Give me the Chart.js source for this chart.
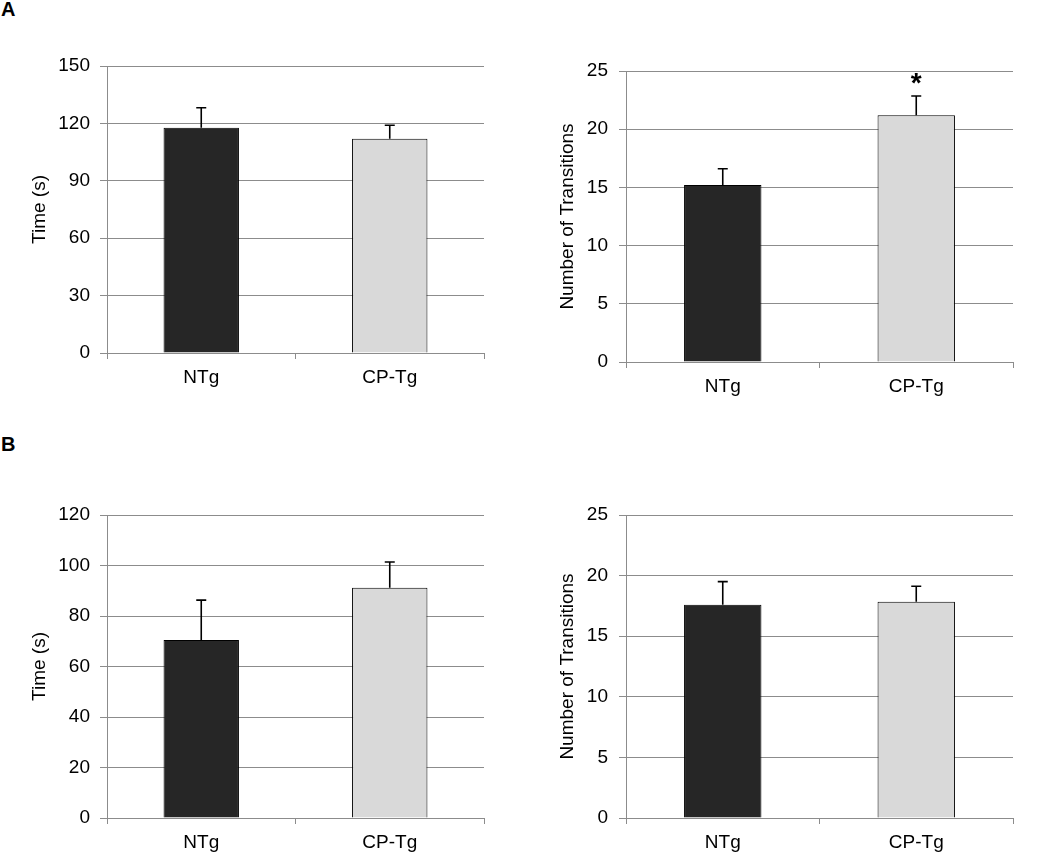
<!DOCTYPE html>
<html>
<head>
<meta charset="utf-8">
<script src="https://cdn.jsdelivr.net/npm/chart.js@4"></script>
<style>
  body { margin: 0; background: #fff; width: 1050px; height: 855px; position: relative; overflow: hidden; font-family: "Liberation Sans", Arial, sans-serif; }
  .panel { position: absolute; font-weight: bold; font-size: 20px; color: #000; }
  canvas { position: absolute; }
</style>
</head>
<body>
<div class="panel" style="left:1px; top:-2px;">A</div>
<div class="panel" style="left:1px; top:433px;">B</div>
<canvas id="a-time" width="500" height="370" style="left:0; top:40px;"></canvas>
<canvas id="a-trans" width="510" height="380" style="left:520px; top:40px;"></canvas>
<canvas id="b-time" width="500" height="365" style="left:0; top:490px;"></canvas>
<canvas id="b-trans" width="510" height="365" style="left:520px; top:490px;"></canvas>
<script>
// groups
const groups = ['NTg', 'CP-Tg'];
const barColors = ['#262626', '#d9d9d9'];

// panel A
const aTime = [117.7, 112.0];
const aTimeErr = [10.5, 7.0];
const aTrans = [15.2, 21.2];
const aTransErr = [1.4, 1.65];
const aTransSig = ['', '*'];

// panel B
const bTime = [70.5, 91.2];
const bTimeErr = [15.8, 10.2];
const bTrans = [17.6, 17.85];
const bTransErr = [1.9, 1.27];

const gridColor = '#8c8c8c';
const font = { family: '"Liberation Sans", Arial, sans-serif', size: 19 };

// draws top-only error bars and significance stars
const errorBarPlugin = {
  id: 'errorBars',
  afterDatasetsDraw(chart, args, opts) {
    const ctx = chart.ctx;
    const x = chart.scales.x;
    const y = chart.scales.y;
    const vals = chart.data.datasets[0].data;
    ctx.save();
    ctx.strokeStyle = '#000';
    ctx.lineWidth = 1.6;
    vals.forEach((v, i) => {
      const px = x.getPixelForValue(i);
      const yTop = y.getPixelForValue(v + opts.errors[i]);
      const yBar = y.getPixelForValue(v);
      ctx.beginPath();
      ctx.moveTo(px, yBar);
      ctx.lineTo(px, yTop);
      ctx.moveTo(px - 5, yTop);
      ctx.lineTo(px + 5, yTop);
      ctx.stroke();
      const star = opts.stars ? opts.stars[i] : '';
      if (star) {
        ctx.fillStyle = '#000';
        ctx.font = 'bold 28px "Liberation Sans", Arial, sans-serif';
        ctx.textAlign = 'center';
        ctx.textBaseline = 'middle';
        ctx.fillText(star, px, yTop - 12);
      }
    });
    ctx.restore();
  }
};

function makeChart(id, values, errors, stars, yMax, yStep, yTitle, box) {
  const ctx = document.getElementById(id).getContext('2d');
  return new Chart(ctx, {
    type: 'bar',
    data: {
      labels: groups,
      datasets: [{
        data: values,
        backgroundColor: barColors,
        borderColor: '#000',
        borderWidth: 1,
        categoryPercentage: 1,
        barPercentage: 0.4
      }]
    },
    options: {
      responsive: false,
      animation: false,
      layout: { padding: { top: box.top, right: box.right, left: 0, bottom: 0 } },
      plugins: {
        legend: { display: false },
        tooltip: { enabled: false },
        errorBars: { errors: errors, stars: stars }
      },
      scales: {
        x: {
          afterFit(scale) { scale.height = box.xHeight; },
          grid: { drawOnChartArea: false, drawTicks: true, tickLength: 6, color: gridColor, offset: true },
          border: { display: true, color: gridColor, width: 1 },
          ticks: { color: '#000', font: font, padding: 7, maxRotation: 0 }
        },
        y: {
          min: 0,
          max: yMax,
          afterFit(scale) { scale.width = box.yWidth; },
          grid: { color: gridColor, lineWidth: 1, tickLength: 7 },
          border: { display: true, color: gridColor, width: 1 },
          ticks: { stepSize: yStep, color: '#000', font: font, padding: box.tickPad },
          title: { display: true, text: yTitle, color: '#000', font: font, padding: { top: box.titlePad, bottom: 0 } }
        }
      }
    },
    plugins: [errorBarPlugin]
  });
}

makeChart('a-time', aTime, aTimeErr, null, 150, 30, 'Time (s)',
  { top: 26, right: 16, xHeight: 57, yWidth: 107, tickPad: 10, titlePad: 28 });
makeChart('a-trans', aTrans, aTransErr, aTransSig, 25, 5, 'Number of Transitions',
  { top: 31, right: 17, xHeight: 58, yWidth: 106, tickPad: 11, titlePad: 36 });
makeChart('b-time', bTime, bTimeErr, null, 120, 20, 'Time (s)',
  { top: 25, right: 16, xHeight: 37, yWidth: 107, tickPad: 10, titlePad: 28 });
makeChart('b-trans', bTrans, bTransErr, null, 25, 5, 'Number of Transitions',
  { top: 25, right: 17, xHeight: 37, yWidth: 106, tickPad: 11, titlePad: 36 });
</script>
</body>
</html>
